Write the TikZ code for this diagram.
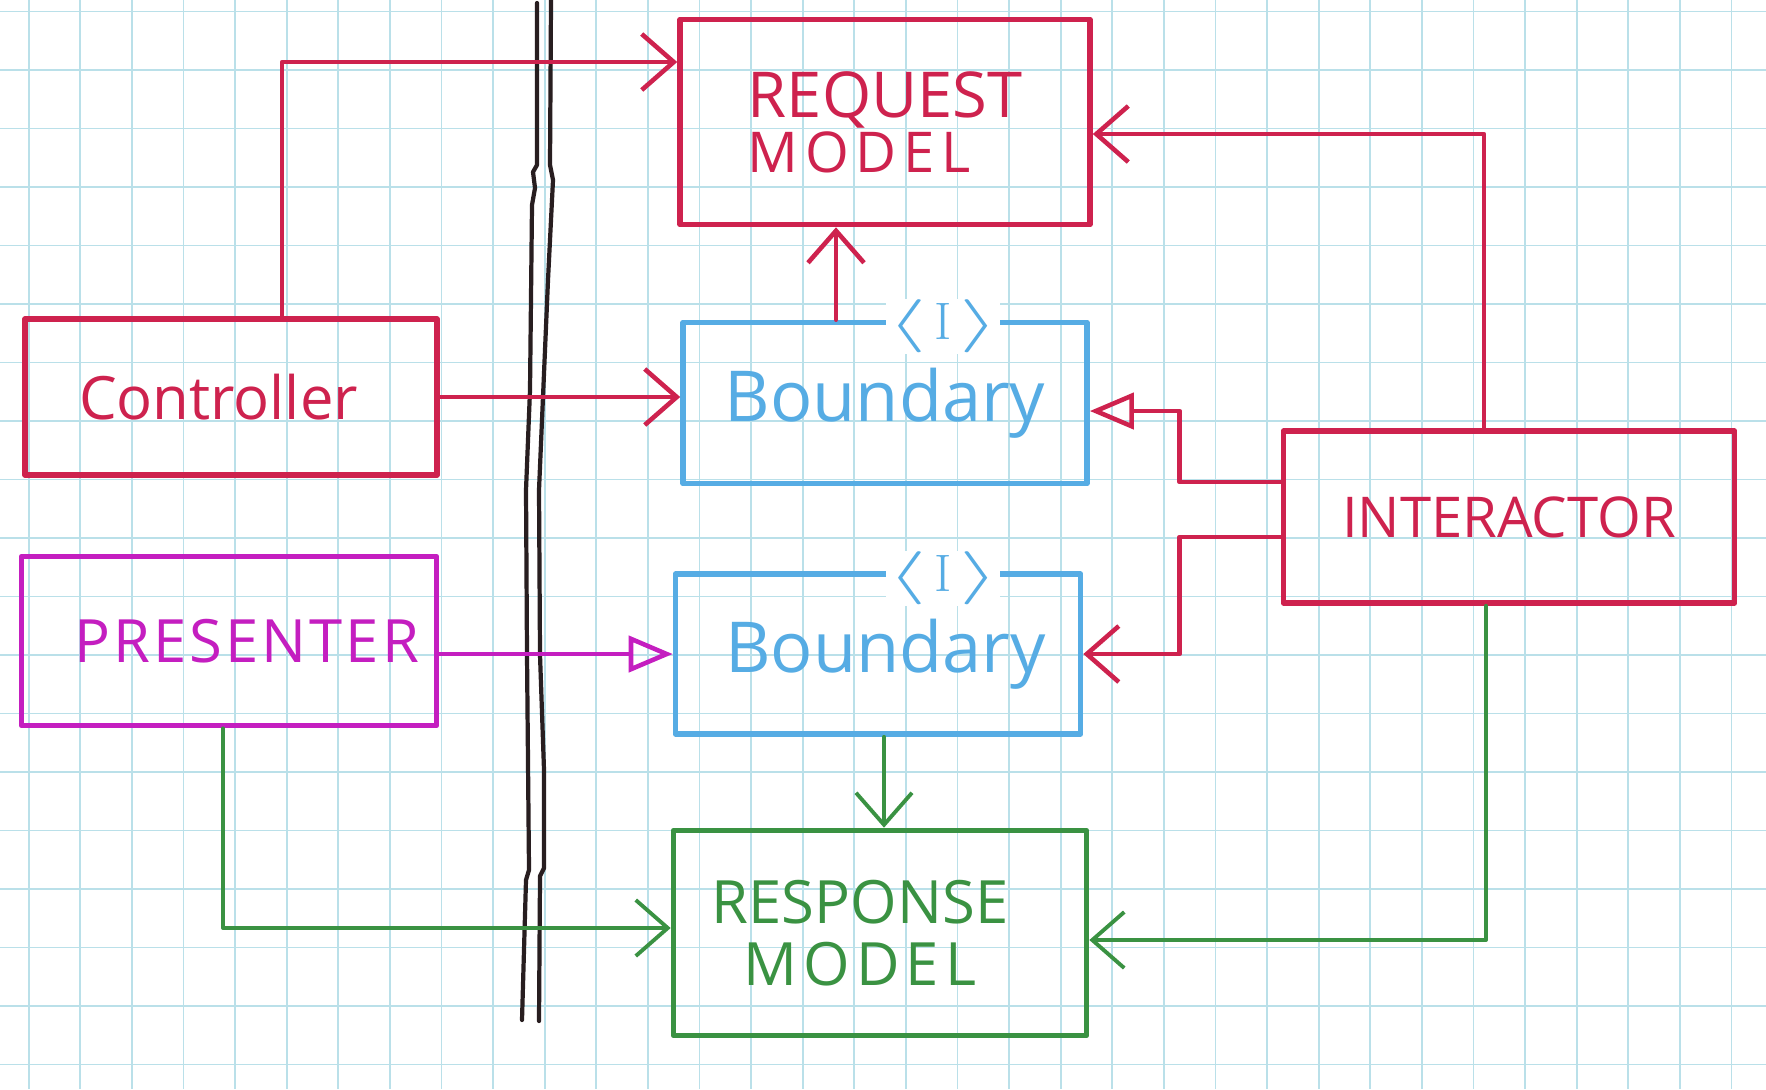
\documentclass[tikz,border=0pt]{standalone}
\usepackage{fontspec}
\setmainfont{Open Sans}
\newfontfamily\serifmark{Latin Modern Roman}
\usepackage{xcolor}
\usepackage{graphicx}
\usetikzlibrary{positioning, arrows.meta, calc}

\definecolor{penred}{RGB}{206,34,78}
\definecolor{penblue}{RGB}{86,172,228}
\definecolor{penmagenta}{RGB}{196,30,192}
\definecolor{pengreen}{RGB}{58,146,66}
\definecolor{gridcyan}{RGB}{186,224,233}
\definecolor{divider}{RGB}{40,30,32}

\newcommand{\ifacemark}{%
    \scalebox{2}[1.05]{\fontsize{14}{14}\selectfont$\langle$}%
    \hspace{0.8mm}{\serifmark\fontsize{15}{15}\selectfont I}\hspace{0.8mm}%
    \scalebox{2}[1.05]{\fontsize{14}{14}\selectfont$\rangle$}}

\begin{document}
\begin{tikzpicture}[
    x=0.1mm, y=-0.1mm,
    font=\fontsize{18}{14.5}\selectfont,
    inkline/.style={line width=1.6pt, line cap=round, line join=round},
    component/.style={
        rectangle, inkline,
        draw=#1, text=#1,
        align=center, inner sep=0pt
    },
    iface/.style={text=penblue, fill=white, inner sep=0.3pt},
    link/.style={inkline, line width=1.3pt, draw=#1, -{Straight Barb[length=3.2mm, width=5.6mm]}},
    realize/.style={inkline, line width=1.3pt, draw=#1, -{Triangle[open, length=4.4mm, width=3.6mm]}},
]

% ---------- Paper ----------
\useasboundingbox[fill=white] (0,0) rectangle (1766,1089);
\foreach \k in {0,...,34}
    \draw[gridcyan, line width=0.5pt] ({28.7+51.6*\k},0) -- ({28.7+51.6*\k},1089);
\foreach \k in {0,...,18}
    \draw[gridcyan, line width=0.5pt] (0,{11.5+58.5*\k}) -- (1766,{11.5+58.5*\k});

% ---------- Divider ----------
\draw[divider, inkline, line width=1.2pt] (537,3) -- (537,165) -- (533,172) -- (535,188) -- (532,205)
    -- (530,390) -- (526,490) -- (527,655) -- (529,870) -- (526,880) -- (522,1020);
\draw[divider, inkline, line width=1.2pt] (551,0) -- (550,165) -- (553,180) -- (548,280)
    -- (539,490) -- (540,655) -- (544,770) -- (544,868) -- (540,876) -- (539,1021);

% ---------- Components ----------
\node[component=penred, align=left, minimum width=41mm, minimum height=20.5mm] (req) at (885,122)
    {REQUEST\\{\fontsize{16}{16}\selectfont\addfontfeature{LetterSpace=12}MODEL}};
\node[component=penred, minimum width=41.2mm, minimum height=15.6mm] (ctrl) at (231,397)
    {\fontsize{17}{17}\selectfont Controller\hspace*{2.5mm}};
\node[component=penblue, minimum width=40.4mm, minimum height=16.1mm] (bdryA) at (885,403)
    {\fontsize{20}{20}\selectfont Boundary};
\node[component=penblue, minimum width=40.5mm, minimum height=16mm] (bdryB) at (878,654)
    {\fontsize{20}{20}\selectfont\hspace*{1.5mm}Boundary};
\node[component=penmagenta, minimum width=41.5mm, minimum height=16.9mm] (pres) at (229,641)
    {\fontsize{17}{17}\selectfont\addfontfeature{LetterSpace=5}\hspace*{3.6mm}PRESENTER};
\node[component=penred, minimum width=45.1mm, minimum height=17.2mm] (intr) at (1509,517)
    {\fontsize{16}{16}\selectfont INTERACTOR};
\node[component=pengreen, font=\fontsize{17}{17.5}\selectfont,
      minimum width=41.3mm, minimum height=20.5mm] (resp) at (880,933)
    {RESPONSE\hspace*{4mm}\\{\addfontfeature{LetterSpace=10}MODEL}\hspace*{4mm}};

% interface marks on the boundaries
\node[iface] (bdryAi) at ([xshift=5.8mm, yshift=-0.7mm]bdryA.north) {\ifacemark};
\node[iface] (bdryBi) at ([xshift=6.5mm, yshift=-0.7mm]bdryB.north) {\ifacemark};

% ---------- Arrows ----------
\draw[link=penred] ([xshift=5.1mm]ctrl.north) |- ([yshift=6mm]req.west);
\draw[link=penred] (ctrl.east) -- (ctrl.east -| bdryA.west);
\coordinate (bdryAup) at ([xshift=-4.9mm]bdryA.north);
\draw[link=penred] (bdryAup) -- (bdryAup |- req.south);
\draw[link=penred] ([xshift=-2.5mm]intr.north) |- ([yshift=-1.2mm]req.east);
\draw[realize=penred] ([yshift=3.5mm]intr.west) -- ++(-10.1mm,0) |- ([yshift=-0.8mm]bdryA.east);
\draw[link=penred] ([yshift=-2mm]intr.west) -- ++(-10.1mm,0) |- (bdryB.east);

\draw[realize=penmagenta] (pres.east |- bdryB.west) -- (bdryB.west);

\draw[link=pengreen, line width=1.1pt] ([xshift=-0.6mm]pres.south) |- ([yshift=0.5mm]resp.west);
\coordinate (bdryBdown) at ([xshift=0.6mm]bdryB.south);
\draw[link=pengreen, line width=1.1pt] (bdryBdown) -- (bdryBdown |- resp.north);
\draw[link=pengreen, line width=1.1pt] ([xshift=-2.3mm]intr.south) |- ([yshift=-0.7mm]resp.east);

\end{tikzpicture}
\end{document}
